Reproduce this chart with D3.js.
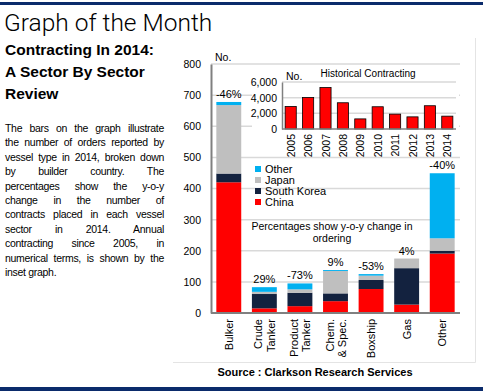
<!DOCTYPE html>
<html>
<head>
<meta charset="utf-8">
<script src="https://cdn.jsdelivr.net/npm/d3@7"></script>
<style>
  body { margin: 0; background: #fff; }
  #page { position: relative; width: 483px; height: 392px; overflow: hidden; font-family: "Liberation Sans", Arial, sans-serif; }
  #page svg { position: absolute; left: 0; top: 0; }
  .para { position: absolute; left: 5px; top: 121px; width: 159px; font-size: 10.5px; line-height: 14.4px; color: #000; letter-spacing: -0.3px; }
  .para div { text-align: justify; text-align-last: justify; white-space: nowrap; }
  .para div.last { text-align-last: left; }
</style>
</head>
<body>
<div id="page"></div>
<script>
// main chart data (2014 orders by builder country)
var sectors = ["Bulker", "Crude Tanker", "Product Tanker", "Chem. & Spec.", "Boxship", "Gas", "Other"];
var china = [420, 15, 22, 38, 77, 27, 191];
var southKorea = [28, 46, 43, 25, 29, 117, 9];
var japan = [220, 7, 11, 72, 14, 31, 40];
var other = [10, 15, 19, 3, 5, 0, 209];
var yoyChange = ["-46%", "29%", "-73%", "9%", "-53%", "4%", "-40%"];
var mainTicks = [0, 100, 200, 300, 400, 500, 600, 700, 800];

// inset data
var years = ["2005", "2006", "2007", "2008", "2009", "2010", "2011", "2012", "2013", "2014"];
var contracting = [2880, 4020, 5290, 3350, 1290, 2840, 1900, 1550, 2970, 1640];
var insetTicks = [0, 2000, 4000, 6000];

var seriesNames = ["China", "South Korea", "Japan", "Other"];
var seriesColors = ["#ff0000", "#13223f", "#bfbfbf", "#00b0f0"];

var paraLines = [
  "The bars on the graph illustrate",
  "the number of orders reported by",
  "vessel type in 2014, broken down",
  "by builder country. The",
  "percentages show the y-o-y",
  "change in the number of",
  "contracts placed in each vessel",
  "sector in 2014. Annual",
  "contracting since 2005, in",
  "numerical terms, is shown by the",
  "inset graph."
];

var page = d3.select("#page");
var svg = page.append("svg").attr("width", 483).attr("height", 392);
var font = "Liberation Sans, Arial, sans-serif";

// navy rules
svg.append("rect").attr("x", 0).attr("y", 2).attr("width", 483).attr("height", 3).attr("fill", "#0b2b6b");
svg.append("rect").attr("x", 0).attr("y", 387).attr("width", 483).attr("height", 4).attr("fill", "#0b2b6b");

// header text
svg.append("text").attr("x", 4).attr("y", 31)
  .style("font-family", "Roboto, sans-serif").style("font-weight", 300)
  .style("font-size", "24.5px").text("Graph of the Month");

var heads = ["Contracting In 2014:", "A Sector By Sector", "Review"];
svg.selectAll(".head").data(heads).join("text")
  .attr("x", 5).attr("y", (d, i) => 55 + i * 22)
  .style("font-family", font).style("font-weight", "bold").style("font-size", "15.5px")
  .text(d => d);

var para = page.append("div").attr("class", "para");
para.selectAll("div").data(paraLines).join("div")
  .attr("class", (d, i) => i == paraLines.length - 1 ? "last" : null)
  .text(d => d);

// chart frame (right and bottom edges only)
svg.append("path").attr("d", "M475.5,38V362.5H173")
  .attr("fill", "none").attr("stroke", "#e4e4e4");

// main chart
var m = { left: 211, right: 460, top: 64, bottom: 313 };
var x = d3.scaleBand().domain(sectors).range([m.left, m.right]).paddingInner(0.3).paddingOuter(0.15);
var y = d3.scaleLinear().domain([0, 800]).range([m.bottom, m.top]);

var g = svg.append("g");
g.selectAll(".grid").data(mainTicks.slice(1)).join("line")
  .attr("x1", m.left).attr("x2", m.right)
  .attr("y1", d => y(d)).attr("y2", d => y(d))
  .attr("stroke", "#d9d9d9").attr("stroke-width", 1.5);

var yAxis = g.append("g").attr("transform", "translate(" + m.left + ",0)")
  .call(d3.axisLeft(y).tickValues(mainTicks).tickSize(0).tickPadding(10));
yAxis.select(".domain").attr("stroke", "#808080").attr("stroke-width", 2);
yAxis.selectAll("text").style("font-family", font).style("font-size", "10.5px").attr("fill", "#000");

svg.append("text").attr("x", 215).attr("y", 61).style("font-family", font).style("font-size", "10.5px").text("No.");

var seriesData = [china, southKorea, japan, other];
var stackRows = sectors.map((s, i) => {
  var row = { sector: s };
  seriesNames.forEach((n, k) => { row[n] = seriesData[k][i]; });
  return row;
});
var stacked = d3.stack().keys(seriesNames)(stackRows);

g.selectAll(".series").data(stacked).join("g")
  .attr("fill", (d, i) => seriesColors[i])
  .selectAll("rect").data(d => d).join("rect")
  .attr("x", d => x(d.data.sector))
  .attr("width", x.bandwidth())
  .attr("y", d => y(d[1]))
  .attr("height", d => y(d[0]) - y(d[1]));

var totals = sectors.map((s, i) => china[i] + southKorea[i] + japan[i] + other[i]);
g.selectAll(".pct").data(sectors).join("text")
  .attr("x", d => x(d) + x.bandwidth() / 2)
  .attr("y", (d, i) => y(totals[i]) - 4)
  .attr("text-anchor", "middle")
  .style("font-family", font).style("font-size", "11px")
  .text((d, i) => yoyChange[i]);

// x axis baseline
g.append("line").attr("x1", m.left).attr("x2", m.right).attr("y1", m.bottom).attr("y2", m.bottom)
  .attr("stroke", "#808080").attr("stroke-width", 2);

// category labels
var catG = g.selectAll(".cat").data(sectors).join("text")
  .attr("transform", d => "translate(" + (x(d) + x.bandwidth() / 2) + ",319) rotate(-90)")
  .attr("text-anchor", "end")
  .style("font-family", font).style("font-size", "11px");
catG.each(function(d) {
  var words = d.indexOf(" ") > 0 ? [d.slice(0, d.indexOf(" ")), d.slice(d.indexOf(" ") + 1)] : [d];
  var t = d3.select(this);
  words.forEach((w, i) => {
    t.append("tspan").attr("x", 0)
      .attr("y", words.length == 1 ? 4 : (i == 0 ? -2 : 10.5))
      .text(w);
  });
});

// legend
var legendOrder = [3, 2, 1, 0];
var lg = svg.append("g");
legendOrder.forEach((k, i) => {
  lg.append("rect").attr("x", 255).attr("y", 166 + i * 11).attr("width", 6).attr("height", 6).attr("fill", seriesColors[k]);
  lg.append("text").attr("x", 265).attr("y", 173 + i * 11)
    .style("font-family", font).style("font-size", "11px").text(seriesNames[k]);
});
svg.append("text").attr("x", 332).attr("y", 230).attr("text-anchor", "middle")
  .style("font-family", font).style("font-size", "10.5px").text("Percentages show y-o-y change in");
svg.append("text").attr("x", 332).attr("y", 242).attr("text-anchor", "middle")
  .style("font-family", font).style("font-size", "10.5px").text("ordering");

// inset chart
var im = { left: 282, right: 456, top: 82, bottom: 129 };
svg.append("rect").attr("x", 252).attr("y", 70).attr("width", 207).attr("height", 84).attr("fill", "#fff");
var ix = d3.scaleBand().domain(years).range([im.left, im.right]).paddingInner(0.36).paddingOuter(0.18);
var iy = d3.scaleLinear().domain([0, 6000]).range([im.bottom, im.top]);
var ig = svg.append("g");
ig.selectAll(".igrid").data(insetTicks.slice(1)).join("line")
  .attr("x1", im.left).attr("x2", im.right)
  .attr("y1", d => iy(d)).attr("y2", d => iy(d))
  .attr("stroke", "#d9d9d9").attr("stroke-width", 1.5);
var iyAxis = ig.append("g").attr("transform", "translate(" + im.left + ",0)")
  .call(d3.axisLeft(iy).tickValues(insetTicks).tickFormat(d3.format(",")).tickSize(0).tickPadding(5));
iyAxis.select(".domain").attr("stroke", "#808080").attr("stroke-width", 1.5);
iyAxis.selectAll("text").style("font-family", font).style("font-size", "10.5px").attr("fill", "#000");
ig.selectAll(".ibar").data(years).join("rect")
  .attr("x", d => ix(d))
  .attr("width", ix.bandwidth())
  .attr("y", (d, i) => iy(contracting[i]))
  .attr("height", (d, i) => iy(0) - iy(contracting[i]))
  .attr("fill", "#ff0000").attr("stroke", "#000").attr("stroke-width", 0.8);
ig.append("line").attr("x1", im.left).attr("x2", im.right).attr("y1", im.bottom).attr("y2", im.bottom)
  .attr("stroke", "#808080").attr("stroke-width", 1.5);
ig.selectAll(".iyear").data(years).join("text")
  .attr("transform", d => "translate(" + (ix(d) + ix.bandwidth() / 2 + 4) + ",134) rotate(-90)")
  .attr("text-anchor", "end")
  .style("font-family", font).style("font-size", "10.5px").text(d => d);
ig.append("text").attr("x", 286).attr("y", 80).style("font-family", font).style("font-size", "10.5px").text("No.");
ig.append("text").attr("x", 368).attr("y", 77).attr("text-anchor", "middle")
  .style("font-family", font).style("font-size", "10px").text("Historical Contracting");

// source
svg.append("text").attr("x", 315).attr("y", 376).attr("text-anchor", "middle")
  .style("font-family", font).style("font-weight", "bold").style("font-size", "11px")
  .text("Source : Clarkson Research Services");
</script>
</body>
</html>
